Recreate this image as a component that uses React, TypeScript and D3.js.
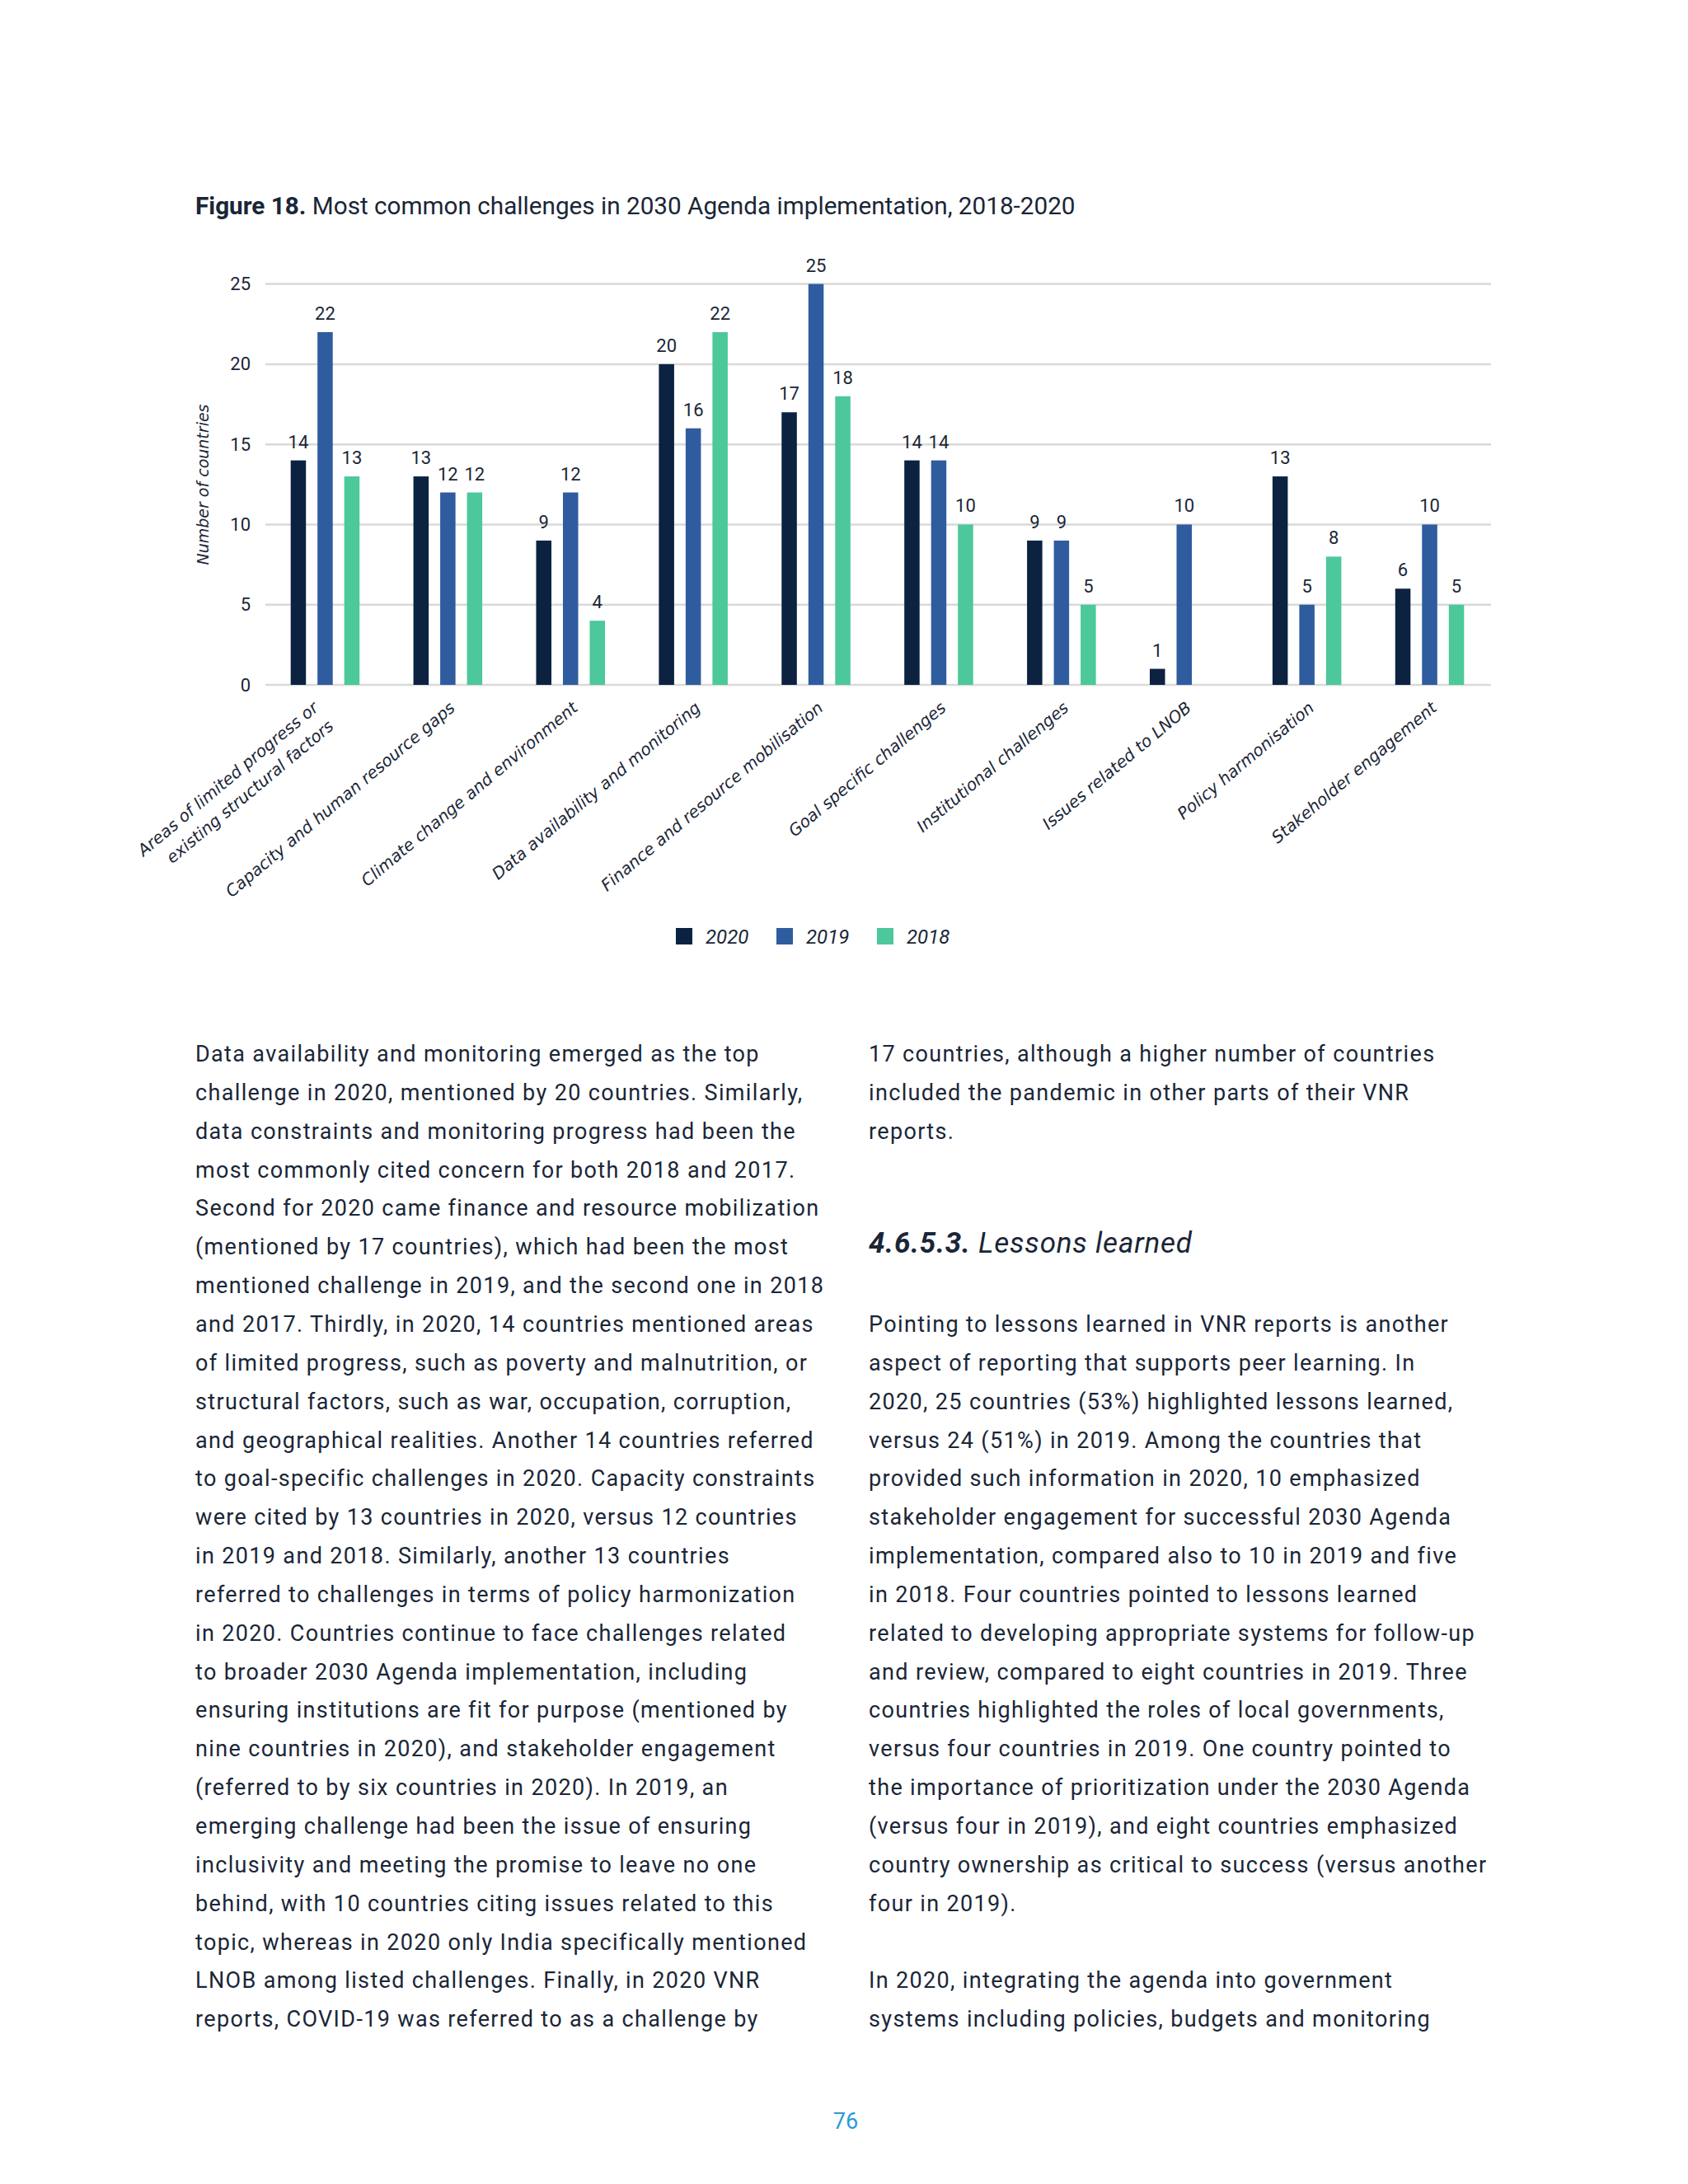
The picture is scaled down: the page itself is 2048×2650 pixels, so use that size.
import React, { useEffect } from 'react';
import * as d3 from 'd3';

// chart data
const categories: string[][] = [
  ['Areas of limited progress or', 'existing structural factors'],
  ['Capacity and human resource gaps'],
  ['Climate change and environment'],
  ['Data availability and monitoring'],
  ['Finance and resource mobilisation'],
  ['Goal specific challenges'],
  ['Institutional challenges'],
  ['Issues related to LNOB'],
  ['Policy harmonisation'],
  ['Stakeholder engagement'],
];
const seriesNames = ['2020', '2019', '2018'];
const values2020 = [14, 13, 9, 20, 17, 14, 9, 1, 13, 6];
const values2019 = [22, 12, 12, 16, 25, 14, 9, 10, 5, 10];
const values2018 = [13, 12, 4, 22, 18, 10, 5, 0, 8, 5];
const yTicks = [0, 5, 10, 15, 20, 25];
const seriesColors = ['#0b2340', '#2f5c9f', '#4cc89a'];

const leftColumn = [
  'Data availability and monitoring emerged as the top',
  'challenge in 2020, mentioned by 20 countries. Similarly,',
  'data constraints and monitoring progress had been the',
  'most commonly cited concern for both 2018 and 2017.',
  'Second for 2020 came finance and resource mobilization',
  '(mentioned by 17 countries), which had been the most',
  'mentioned challenge in 2019, and the second one in 2018',
  'and 2017. Thirdly, in 2020, 14 countries mentioned areas',
  'of limited progress, such as poverty and malnutrition, or',
  'structural factors, such as war, occupation, corruption,',
  'and geographical realities. Another 14 countries referred',
  'to goal-specific challenges in 2020. Capacity constraints',
  'were cited by 13 countries in 2020, versus 12 countries',
  'in 2019 and 2018. Similarly, another 13 countries',
  'referred to challenges in terms of policy harmonization',
  'in 2020. Countries continue to face challenges related',
  'to broader 2030 Agenda implementation, including',
  'ensuring institutions are fit for purpose (mentioned by',
  'nine countries in 2020), and stakeholder engagement',
  '(referred to by six countries in 2020). In 2019, an',
  'emerging challenge had been the issue of ensuring',
  'inclusivity and meeting the promise to leave no one',
  'behind, with 10 countries citing issues related to this',
  'topic, whereas in 2020 only India specifically mentioned',
  'LNOB among listed challenges. Finally, in 2020 VNR',
  'reports, COVID-19 was referred to as a challenge by',
];
const rightTop = [
  '17 countries, although a higher number of countries',
  'included the pandemic in other parts of their VNR',
  'reports.',
];
const rightMain = [
  'Pointing to lessons learned in VNR reports is another',
  'aspect of reporting that supports peer learning. In',
  '2020, 25 countries (53%) highlighted lessons learned,',
  'versus 24 (51%) in 2019. Among the countries that',
  'provided such information in 2020, 10 emphasized',
  'stakeholder engagement for successful 2030 Agenda',
  'implementation, compared also to 10 in 2019 and five',
  'in 2018. Four countries pointed to lessons learned',
  'related to developing appropriate systems for follow-up',
  'and review, compared to eight countries in 2019. Three',
  'countries highlighted the roles of local governments,',
  'versus four countries in 2019. One country pointed to',
  'the importance of prioritization under the 2030 Agenda',
  '(versus four in 2019), and eight countries emphasized',
  'country ownership as critical to success (versus another',
  'four in 2019).',
];
const rightEnd = [
  'In 2020, integrating the agenda into government',
  'systems including policies, budgets and monitoring',
];

const W = 2048;
const H = 2650;
const INK = '#1a2637';
const DIN = 'Roboto, "Liberation Sans", sans-serif';
const WIDE = '"DejaVu Sans", Verdana, sans-serif';

const plot = { left: 322, right: 1809, top: 344.6, bottom: 831 };
const lineH = 46.85;
const bodyTop = 1288;

export default function App() {
  useEffect(() => {
    document.body.style.margin = '0';
    document.body.style.background = '#fff';
  }, []);

  const allValues = [values2020, values2019, values2018];

  const x = d3.scaleBand<number>()
    .domain(d3.range(categories.length))
    .range([plot.left - 2, plot.right]);

  const xs = d3.scaleBand<string>()
    .domain(seriesNames)
    .range([-48.75, 48.75])
    .paddingInner(0.43)
    .paddingOuter(0.215);

  const y = d3.scaleLinear().domain([0, 25]).range([plot.bottom, plot.top]);

  const bodyText = (lines: string[], x0: number, startIdx: number) =>
    lines.map((t, i) => (
      <text key={t + i} x={x0} y={bodyTop + (startIdx + i) * lineH}
        fontFamily={DIN} fontSize={27} letterSpacing={1.35} fill={INK}>{t}</text>
    ));

  return (
    <svg width={W} height={H} style={{ display: 'block', background: '#fff' }}>
      {/* title */}
      <text x={237} y={260} fontFamily={DIN} fontSize={29.7} fill={INK}>
        <tspan fontWeight={700}>Figure 18.</tspan>
        <tspan> Most common challenges in 2030 Agenda implementation, 2018-2020</tspan>
      </text>

      {/* grid + y axis */}
      {yTicks.map((t) => (
        <g key={t}>
          <line x1={plot.left} x2={plot.right} y1={y(t)} y2={y(t)} stroke="#d9d9d9" strokeWidth={2.5} />
          <text x={304} y={y(t)} textAnchor="end" dominantBaseline="central"
            fontFamily={DIN} fontSize={22} fill={INK}>{t}</text>
        </g>
      ))}
      <text transform="translate(246,588) rotate(-90)" textAnchor="middle" dominantBaseline="central"
        fontFamily={WIDE} fontStyle="italic" fontSize={19} fill={INK}>Number of countries</text>

      {/* bars */}
      {categories.map((_, ci) => {
        const cx = (x(ci) ?? 0) + x.bandwidth() / 2;
        return (
          <g key={ci} transform={`translate(${cx},0)`}>
            {seriesNames.map((s, si) => {
              const v = allValues[si][ci];
              if (!v) return null;
              const bx = xs(s) ?? 0;
              return (
                <g key={s}>
                  <rect x={bx} y={y(v)} width={xs.bandwidth()} height={y(0) - y(v)} fill={seriesColors[si]} />
                  <text x={bx + xs.bandwidth() / 2} y={y(v) - 15} textAnchor="middle"
                    fontFamily={DIN} fontSize={22} fill={INK}>{v}</text>
                </g>
              );
            })}
          </g>
        );
      })}

      {/* category labels */}
      {categories.map((lines, ci) => {
        const cx = (x(ci) ?? 0) + x.bandwidth() / 2;
        const ax = cx + 10 - 17 * (lines.length - 1);
        return (
          <text key={ci} transform={`translate(${ax},861) rotate(-40)`} textAnchor="end"
            fontFamily={WIDE} fontStyle="italic" fontSize={20} fill={INK}>
            {lines.map((l, li) => (
              <tspan key={li} x={0} dy={li === 0 ? 0 : 29}>{l}</tspan>
            ))}
          </text>
        );
      })}

      {/* legend */}
      {seriesNames.map((s, si) => (
        <g key={s} transform={`translate(${820 + si * 122},1126)`}>
          <rect width={20} height={20} fill={seriesColors[si]} />
          <text x={36} y={19} fontFamily={DIN} fontStyle="italic" fontSize={24} fill={INK}>{s}</text>
        </g>
      ))}

      {/* body text */}
      {bodyText(leftColumn, 237, 0)}
      {bodyText(rightTop, 1054, 0)}
      <text x={1054} y={bodyTop + 5 * lineH - 2} fontFamily={DIN} fontSize={35} letterSpacing={0.8}
        fontStyle="italic" fill={INK}>
        <tspan fontWeight={700}>4.6.5.3.</tspan>
        <tspan> Lessons learned</tspan>
      </text>
      {bodyText(rightMain, 1054, 7)}
      {bodyText(rightEnd, 1054, 24)}

      {/* page number */}
      <text x={1026} y={2583} textAnchor="middle" fontFamily={DIN} fontSize={27} fill="#2a9ad8">76</text>
    </svg>
  );
}
